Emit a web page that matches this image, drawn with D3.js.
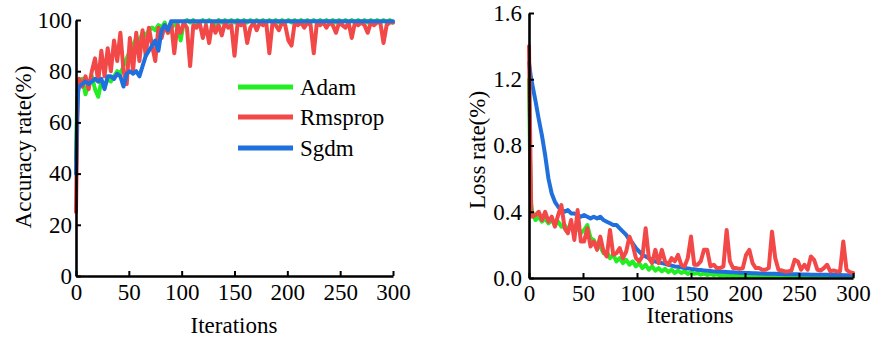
<!DOCTYPE html>
<html><head><meta charset="utf-8">
<script src="https://cdn.jsdelivr.net/npm/d3@7"></script>
<style>
html,body{margin:0;padding:0;background:#fff;}
svg text{font-family:"Liberation Serif","Times New Roman",Times,serif;fill:#000;}
</style></head>
<body><svg id="c" width="874" height="344"></svg>
<script>
// iteration grid (x values)
const iterations = [0, 1, 2].concat(d3.range(3, 301, 3));
const seriesNames = ["Adam", "Rmsprop", "Sgdm"];
const seriesColors = ["#22ee22", "#f24848", "#1f70dc"];
const xTicks = [0, 50, 100, 150, 200, 250, 300];
const accTicks = [0, 20, 40, 60, 80, 100];
const lossTicks = [0, 0.4, 0.8, 1.2, 1.6];

// Accuracy (%)
const accAdam = [45, 68, 74,
  76, 77, 71, 75, 78, 73, 70, 76, 74, 77,
  76, 78, 80, 79, 82, 85, 88, 90, 93, 92,
  95, 94, 96, 97, 96, 98, 97, 99, 95, 97,
  98, 99, 92, 99, 100, 99, 100, 98, 99, 100,
  99, 100, 99, 98, 100, 99, 100, 99, 100, 99,
  100, 99, 100, 99, 100, 99, 100, 99, 100, 99,
  100, 99, 100, 99, 100, 99, 100, 99, 100, 99,
  100, 99, 100, 99, 100, 99, 100, 99, 100, 99,
  100, 99, 100, 99, 100, 99, 100, 99, 100, 99,
  100, 99, 100, 99, 100, 99, 100, 99, 100, 99];
const accRms = [25, 55, 76,
  77, 74, 78, 73, 80, 85, 76, 88, 78, 89,
  80, 92, 84, 95, 80, 75, 93, 80, 95, 84,
  96, 86, 97, 90, 84, 97, 93, 98, 95, 99,
  87, 98, 95, 99, 97, 82, 98, 97, 99, 93,
  98, 91, 99, 95, 98, 94, 99, 97, 98, 86,
  99, 98, 99, 91, 97, 99, 96, 99, 98, 99,
  87, 99, 98, 96, 99, 98, 92, 90, 99, 98,
  99, 97, 99, 98, 87, 99, 98, 99, 97, 99,
  98, 95, 99, 98, 97, 99, 93, 99, 98, 99,
  98, 95, 99, 98, 99, 99, 91, 98, 99, 99];
const accSgdm = [40, 62, 72,
  74, 75, 76, 75, 76, 77, 76, 77, 73, 78,
  78, 77, 79, 78, 74, 79, 80, 79, 80, 78,
  82, 86, 88, 90, 92, 88, 96, 98, 96, 99.5,
  99.5, 99.5, 99.5, 99.5, 99.5, 99.5, 99.5, 99.5, 99.5, 99.5,
  99.5, 99.5, 99.5, 99.5, 99.5, 99.5, 99.5, 99.5, 99.5, 99.5,
  99.5, 99.5, 99.5, 99.5, 99.5, 99.5, 99.5, 99.5, 99.5, 99.5,
  99.5, 99.5, 99.5, 99.5, 99.5, 99.5, 99.5, 99.5, 99.5, 99.5,
  99.5, 99.5, 99.5, 99.5, 99.5, 99.5, 99.5, 99.5, 99.5, 99.5,
  99.5, 99.5, 99.5, 99.5, 99.5, 99.5, 99.5, 99.5, 99.5, 99.5,
  99.5, 99.5, 99.5, 99.5, 99.5, 99.5, 99.5, 99.5, 99.5, 99.5];

// Loss
const lossAdam = [1.20, 0.70, 0.45,
  0.40, 0.35, 0.37, 0.34, 0.36, 0.33, 0.35, 0.32, 0.34, 0.31,
  0.32, 0.29, 0.31, 0.28, 0.30, 0.27, 0.29, 0.32, 0.24, 0.23,
  0.19, 0.19, 0.15, 0.16, 0.12, 0.14, 0.10, 0.12, 0.09, 0.11,
  0.08, 0.10, 0.07, 0.09, 0.06, 0.08, 0.05, 0.07, 0.045, 0.06,
  0.04, 0.055, 0.035, 0.05, 0.03, 0.045, 0.03, 0.04, 0.025, 0.035,
  0.025, 0.03, 0.02, 0.028, 0.018, 0.025, 0.017, 0.022, 0.015, 0.02,
  0.014, 0.018, 0.012, 0.016, 0.011, 0.015, 0.010, 0.014, 0.010, 0.013,
  0.009, 0.012, 0.009, 0.011, 0.008, 0.011, 0.008, 0.010, 0.008, 0.010,
  0.007, 0.009, 0.007, 0.009, 0.007, 0.009, 0.007, 0.008, 0.007, 0.008,
  0.006, 0.008, 0.006, 0.008, 0.006, 0.007, 0.006, 0.007, 0.006, 0.006];
const lossRms = [1.40, 0.90, 0.41,
  0.37, 0.38, 0.40, 0.35, 0.40, 0.34, 0.37, 0.31, 0.38, 0.44,
  0.30, 0.27, 0.35, 0.23, 0.41, 0.22, 0.22, 0.30, 0.19, 0.22,
  0.17, 0.25, 0.16, 0.13, 0.29, 0.14, 0.15, 0.18, 0.12, 0.16,
  0.25, 0.20, 0.12, 0.10, 0.13, 0.30, 0.12, 0.09, 0.17, 0.09,
  0.17, 0.10, 0.08, 0.12, 0.10, 0.14, 0.08, 0.07, 0.12, 0.25,
  0.08, 0.08, 0.10, 0.17, 0.17, 0.07, 0.08, 0.06, 0.06, 0.07,
  0.29, 0.10, 0.06, 0.06, 0.055, 0.06, 0.14, 0.17, 0.09, 0.06,
  0.06, 0.05, 0.05, 0.06, 0.28, 0.12, 0.05, 0.045, 0.04, 0.04,
  0.045, 0.11, 0.10, 0.05, 0.08, 0.05, 0.13, 0.11, 0.05, 0.045,
  0.06, 0.08, 0.04, 0.045, 0.04, 0.04, 0.22, 0.05, 0.035, 0.03];
const lossSgdm = [1.30, 1.25, 1.20,
  1.17, 1.07, 0.96, 0.86, 0.74, 0.60, 0.51, 0.46, 0.43, 0.41,
  0.40, 0.41, 0.39, 0.39, 0.38, 0.37, 0.38, 0.37, 0.36, 0.37,
  0.36, 0.37, 0.35, 0.34, 0.33, 0.32, 0.32, 0.30, 0.28, 0.26,
  0.23, 0.21, 0.18, 0.16, 0.14, 0.13, 0.12, 0.11, 0.10, 0.095,
  0.09, 0.085, 0.08, 0.075, 0.07, 0.068, 0.065, 0.06, 0.058, 0.055,
  0.053, 0.05, 0.048, 0.046, 0.044, 0.042, 0.04, 0.039, 0.038, 0.037,
  0.036, 0.035, 0.034, 0.033, 0.032, 0.031, 0.030, 0.030, 0.029, 0.028,
  0.027, 0.027, 0.026, 0.026, 0.025, 0.025, 0.024, 0.024, 0.023, 0.023,
  0.022, 0.022, 0.022, 0.021, 0.021, 0.021, 0.020, 0.020, 0.020, 0.019,
  0.019, 0.019, 0.018, 0.018, 0.018, 0.018, 0.017, 0.017, 0.017, 0.017];

const svg = d3.select("#c");
const FS = 23;

function panel(opts) {
  const x = d3.scaleLinear().domain([0, 300]).range(opts.xr);
  const y = d3.scaleLinear().domain(opts.yd).range(opts.yr);
  const g = svg.append("g");
  const line = d3.line().x((d, i) => x(iterations[i])).y(d => y(d));
  opts.order.forEach(k => {
    g.append("path").datum(opts.series[k])
      .attr("fill", "none").attr("stroke", seriesColors[k])
      .attr("stroke-width", 4).attr("stroke-linejoin", "round").attr("stroke-linecap", "round")
      .attr("d", line);
  });
  const ax = g.append("g").attr("transform", `translate(0,${opts.yr[0]})`)
    .call(d3.axisBottom(x).tickValues(xTicks).tickSizeInner(-5).tickSizeOuter(0).tickPadding(opts.xpad));
  const ay = g.append("g").attr("transform", `translate(${opts.xr[0]},0)`)
    .call(d3.axisLeft(y).tickValues(opts.yticks).tickFormat(opts.yfmt).tickSizeInner(-5).tickSizeOuter(0).tickPadding(opts.ypad));
  [ax, ay].forEach(a => {
    a.select(".domain").attr("stroke", "#000").attr("stroke-width", 2.6);
    a.selectAll(".tick line").attr("stroke", "#000").attr("stroke-width", 2);
    a.selectAll("text").style("font-size", FS + "px").style("font-family", '"Liberation Serif",serif').attr("fill", "#000");
  });
  g.append("text").attr("x", opts.xlab[0]).attr("y", opts.xlab[1]).attr("text-anchor", "middle")
    .style("font-size", FS + "px").text("Iterations");
  g.append("text").attr("transform", `translate(${opts.ylab[0]},${opts.ylab[1]}) rotate(-90)`)
    .attr("text-anchor", "middle").attr("dy", "0.35em")
    .style("font-size", FS + "px").text(opts.ytitle);
  return g;
}

panel({
  xr: [76, 393], yr: [276, 20], yd: [0, 100],
  series: [accAdam, accRms, accSgdm], order: [0, 1, 2],
  yticks: accTicks, yfmt: d3.format("d"), xpad: 8, ypad: 4,
  xlab: [234, 333], ylab: [23, 147], ytitle: "Accuracy rate(%)"
});
panel({
  xr: [529, 853], yr: [278, 13], yd: [0, 1.6],
  series: [lossAdam, lossRms, lossSgdm], order: [0, 2, 1],
  yticks: lossTicks, yfmt: d3.format(".1f"), xpad: 7, ypad: 7,
  xlab: [690, 323], ylab: [477, 150], ytitle: "Loss rate(%)"
});

// legend
const legY = [87, 117, 148];
const leg = svg.append("g");
seriesNames.forEach((n, i) => {
  leg.append("line").attr("x1", 238).attr("x2", 293).attr("y1", legY[i]).attr("y2", legY[i])
    .attr("stroke", seriesColors[i]).attr("stroke-width", 5);
  leg.append("text").attr("x", 300).attr("y", legY[i]).attr("dy", "0.33em")
    .style("font-size", FS + "px").text(n);
});
</script></body></html>
